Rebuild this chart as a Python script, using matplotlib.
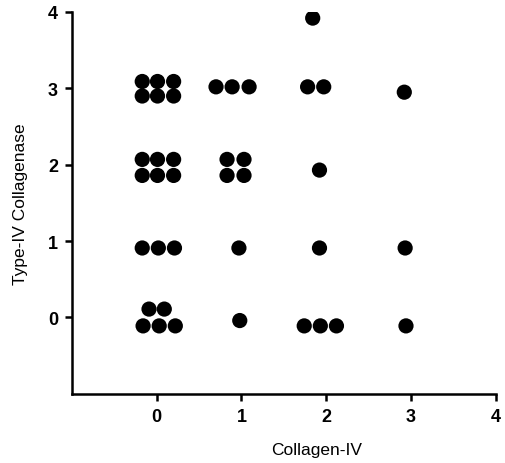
import matplotlib
matplotlib.use('Agg')
import matplotlib.pyplot as plt

plt.rcParams['font.family'] = ['Liberation Sans', 'DejaVu Sans']

# dot positions (scores are jittered sideways / up-down)
collagen = [-0.17, 0.01, 0.20, -0.17, 0.01, 0.20,
            0.70, 0.89, 1.09, 1.78, 1.97, 2.92, 1.84,
            -0.17, 0.01, 0.20, -0.17, 0.01, 0.20,
            0.83, 1.03, 0.83, 1.03, 1.92,
            -0.17, 0.02, 0.21, 0.97, 1.92, 2.93,
            -0.09, 0.09, -0.16, 0.03, 0.22, 0.98, 1.74, 1.93, 2.12, 2.94]
collagenase = [3.09, 3.09, 3.09, 2.90, 2.90, 2.90,
               3.02, 3.02, 3.02, 3.02, 3.02, 2.95, 3.92,
               2.07, 2.07, 2.07, 1.86, 1.86, 1.86,
               2.07, 2.07, 1.86, 1.86, 1.93,
               0.91, 0.91, 0.91, 0.91, 0.91, 0.91,
               0.11, 0.11, -0.11, -0.11, -0.11, -0.04, -0.11, -0.11, -0.11, -0.11]
ticks = [0, 1, 2, 3, 4]

fig = plt.figure(figsize=(5.06, 4.64), dpi=100)
ax = fig.add_axes([0.142, 0.149, 0.838, 0.823])
ax.scatter(collagen, collagenase, s=120, color='black', edgecolors='none')

ax.set_xlim(-1, 4)
ax.set_ylim(-1, 4)
ax.set_xticks(ticks)
ax.set_yticks(ticks)
ax.spines['top'].set_visible(False)
ax.spines['right'].set_visible(False)
ax.spines['left'].set_linewidth(1.8)
ax.spines['bottom'].set_linewidth(1.8)
ax.tick_params(direction='out', length=5, width=1.8, labelsize=13, pad=5)
for lab in ax.get_xticklabels() + ax.get_yticklabels():
    lab.set_fontweight('bold')

ax.set_xlabel('Collagen-IV', fontsize=12.5)
ax.xaxis.set_label_coords(0.578, -0.125)
ax.set_ylabel('Type-IV Collagenase', fontsize=12.5, labelpad=14)

fig.savefig('out.png', dpi=100)
